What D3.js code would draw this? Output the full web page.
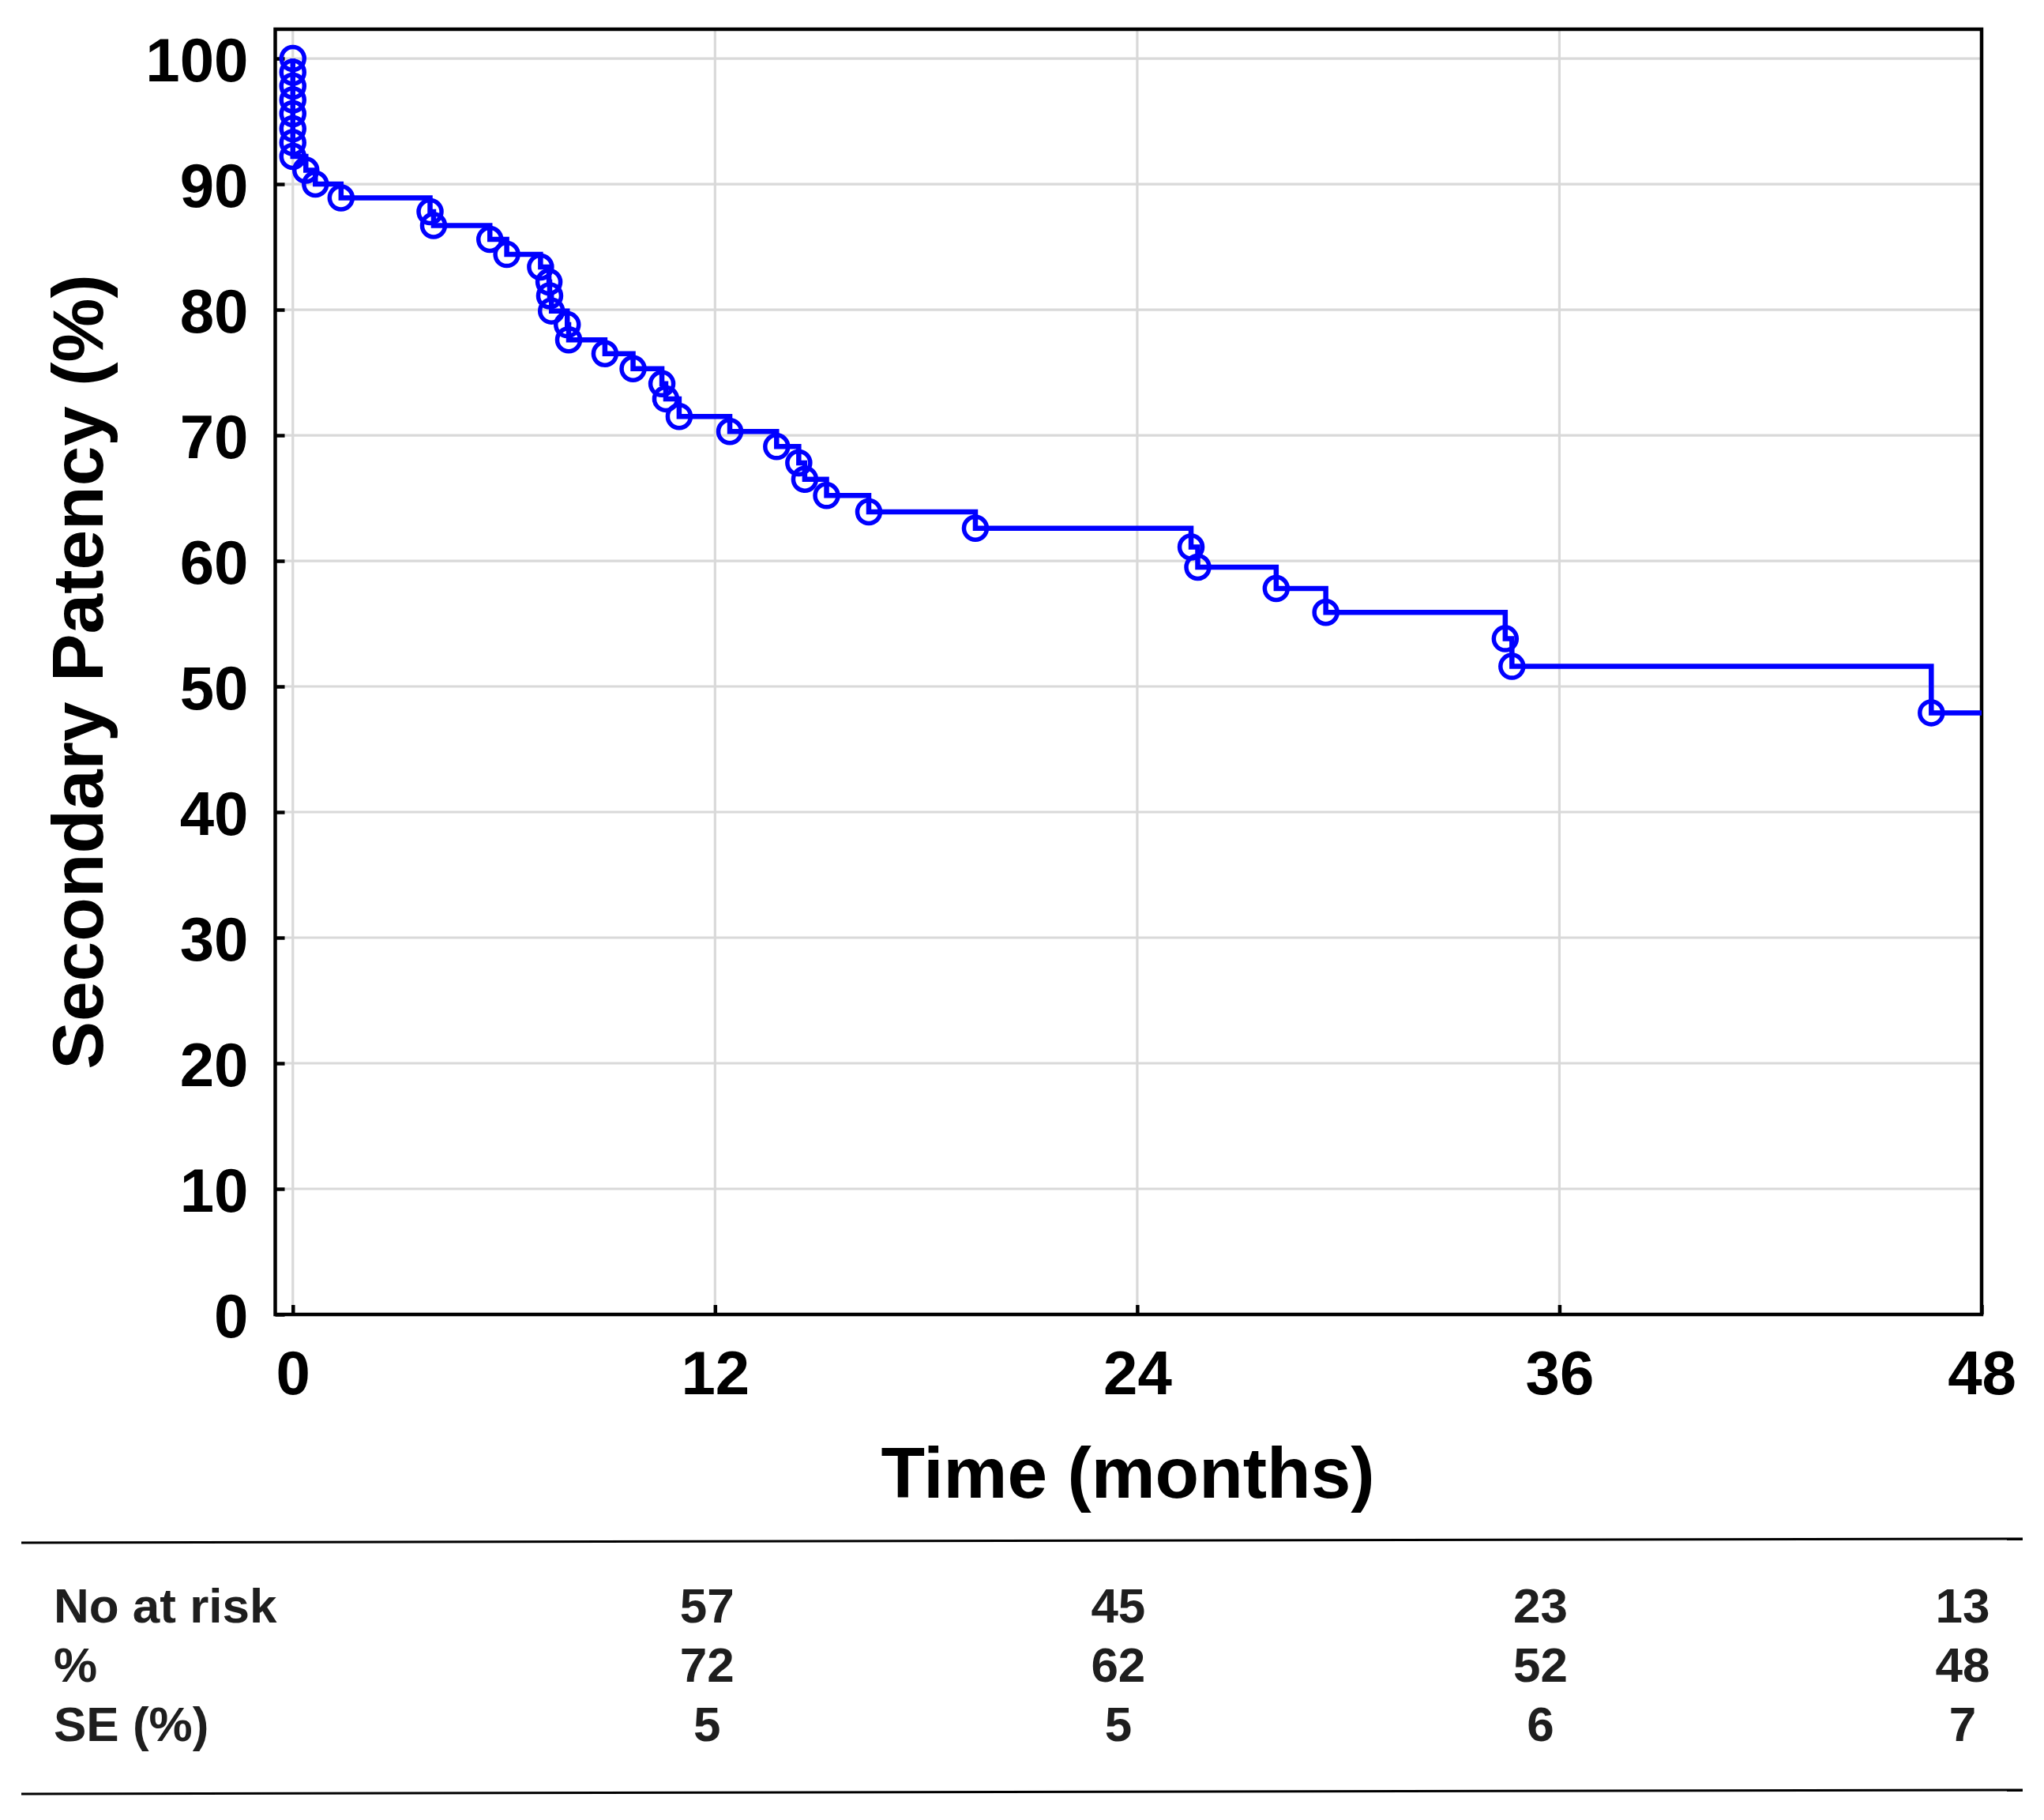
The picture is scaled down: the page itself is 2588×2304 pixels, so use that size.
<!DOCTYPE html>
<html>
<head>
<meta charset="utf-8">
<script src="https://cdn.jsdelivr.net/npm/d3@7"></script>
<style>
  html, body { margin: 0; padding: 0; background: #fff; }
  text { font-family: "Liberation Sans", Arial, Helvetica, sans-serif; font-weight: bold; }
</style>
</head>
<body>
<svg id="km-graph"></svg>
<script>
// Kaplan-Meier curve: secondary patency, time in months
const eventTimes = [0, 0, 0, 0, 0, 0, 0, 0, 0.37, 0.64, 1.37, 3.9, 4.0, 5.6, 6.08,
  7.04, 7.28, 7.30, 7.35, 7.8, 7.84, 8.87, 9.67, 10.49, 10.6, 10.98,
  12.42, 13.75, 14.38, 14.55, 15.17, 16.37, 19.4, 25.53, 25.72, 27.95, 29.36,
  34.46, 34.65, 46.57];
const patency = [100, 98.9, 97.8, 96.7, 95.6, 94.4, 93.3, 92.2, 91.1, 90.0, 88.9, 87.8, 86.7, 85.6, 84.4,
  83.4, 82.2, 81.1, 79.9, 78.8, 77.6, 76.5, 75.3, 74.1, 72.9, 71.5,
  70.3, 69.1, 67.8, 66.5, 65.2, 63.9, 62.6, 61.1, 59.5, 57.8, 55.9,
  53.8, 51.6, 47.9];
const followUpEnd = 48;

const xTicks = [0, 12, 24, 36, 48];
const yTicks = [0, 10, 20, 30, 40, 50, 60, 70, 80, 90, 100];

// risk table
const riskTimes = [12, 24, 36, 48];
const rowLabels = ["No at risk", "%", "SE (%)"];
const noAtRisk = [57, 45, 23, 13];
const pctRow = [72, 62, 52, 48];
const seRow = [5, 5, 6, 7];

const width = 2588, height = 2304;
const svg = d3.select("#km-graph").attr("width", width).attr("height", height)
  .attr("viewBox", `0 0 ${width} ${height}`);

svg.append("rect").attr("width", width).attr("height", height).attr("fill", "#fff");

const frame = { left: 348.5, right: 2509, top: 37, bottom: 1664 };

const xScale = d3.scaleLinear().domain([-0.5, 48]).range([frame.left, frame.right]);
const yScale = d3.scaleLinear().domain([0, 102.33]).range([frame.bottom, frame.top]);

// gridlines
const grid = svg.append("g").attr("class", "grid");
grid.selectAll(".vgrid").data(xTicks).enter().append("line")
  .attr("x1", d => xScale(d)).attr("x2", d => xScale(d))
  .attr("y1", frame.top).attr("y2", frame.bottom)
  .attr("stroke", "#d9d9d9").attr("stroke-width", 3.2);
grid.selectAll(".hgrid").data(yTicks).enter().append("line")
  .attr("x1", frame.left).attr("x2", frame.right)
  .attr("y1", d => yScale(d)).attr("y2", d => yScale(d))
  .attr("stroke", "#d9d9d9").attr("stroke-width", 3.2);

// axes (ticks point inward)
const yaxis = svg.append("g")
  .attr("transform", `translate(${frame.left},0)`)
  .call(d3.axisLeft(yScale).tickValues(yTicks).tickSize(-12).tickPadding(34));
const xaxis = svg.append("g")
  .attr("transform", `translate(0,${frame.bottom})`)
  .call(d3.axisBottom(xScale).tickValues(xTicks).tickSize(-12).tickPadding(46));

[yaxis, xaxis].forEach(ax => {
  ax.select(".domain").remove();
  ax.selectAll(".tick line").attr("stroke", "#000").attr("stroke-width", 4.5);
  ax.selectAll(".tick text")
    .attr("fill", "#000")
    .attr("font-size", 78)
    .attr("font-family", "Liberation Sans, Arial, sans-serif")
    .attr("font-weight", "bold");
});
yaxis.selectAll(".tick text").attr("dy", "0.36em");

// frame
svg.append("rect")
  .attr("x", frame.left).attr("y", frame.top)
  .attr("width", frame.right - frame.left).attr("height", frame.bottom - frame.top)
  .attr("fill", "none").attr("stroke", "#000").attr("stroke-width", 4.5);

// step curve
const points = eventTimes.map((t, i) => ({ t: t, v: patency[i] }));
const linePts = points.concat([{ t: followUpEnd, v: patency[patency.length - 1] }]);

const genLine = d3.line()
  .x(d => xScale(d.t))
  .y(d => yScale(d.v))
  .curve(d3.curveStepAfter);

svg.append("path")
  .attr("d", genLine(linePts))
  .attr("fill", "none")
  .attr("stroke", "#0000ff")
  .attr("stroke-width", 6.5);

svg.append("g").selectAll("circle").data(points).enter().append("circle")
  .attr("cx", d => xScale(d.t))
  .attr("cy", d => yScale(d.v))
  .attr("r", 14.5)
  .attr("fill", "none")
  .attr("stroke", "#0000ff")
  .attr("stroke-width", 5.5);

// axis titles
svg.append("text")
  .attr("x", 1428).attr("y", 1896)
  .attr("text-anchor", "middle")
  .attr("font-size", 91)
  .attr("fill", "#000")
  .text("Time (months)");

svg.append("text")
  .attr("transform", `translate(130,${(frame.top + frame.bottom) / 2})rotate(-90)`)
  .attr("text-anchor", "middle")
  .attr("font-size", 91)
  .attr("fill", "#000")
  .text("Secondary Patency (%)");

// risk table
svg.append("line")
  .attr("x1", 27).attr("y1", 1953).attr("x2", 2561).attr("y2", 1948)
  .attr("stroke", "#000").attr("stroke-width", 3);
svg.append("line")
  .attr("x1", 27).attr("y1", 2271).attr("x2", 2561).attr("y2", 2266)
  .attr("stroke", "#000").attr("stroke-width", 3);

const rowBase = [2054, 2129, 2204];
const rows = [noAtRisk, pctRow, seRow];

const table = svg.append("g").attr("class", "riskTable");
rowLabels.forEach((label, r) => {
  table.append("text")
    .attr("x", 68).attr("y", rowBase[r])
    .attr("font-size", 62)
    .attr("fill", "#1e1e1e")
    .text(label);
  table.selectAll(".cell" + r).data(rows[r]).enter().append("text")
    .attr("class", "cell" + r)
    .attr("x", (d, i) => xScale(riskTimes[i]) - 24 + (i === 0 ? 14 : 0))
    .attr("y", rowBase[r])
    .attr("text-anchor", "middle")
    .attr("font-size", 62)
    .attr("fill", "#1e1e1e")
    .text(d => d);
});
</script>
</body>
</html>
